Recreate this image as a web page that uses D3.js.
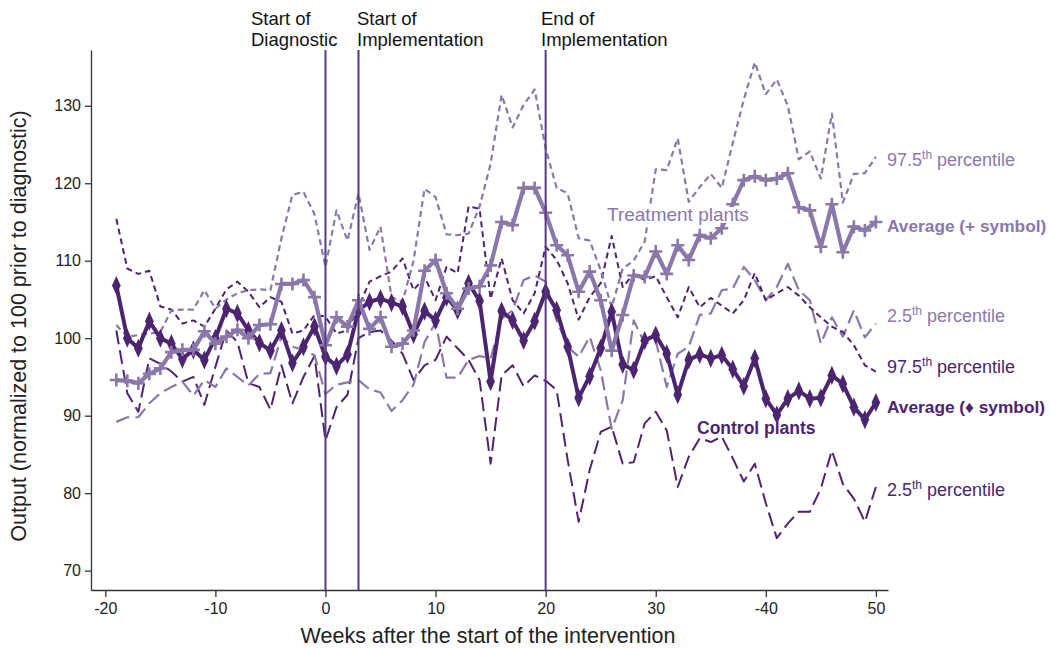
<!DOCTYPE html>
<html>
<head>
<meta charset="utf-8">
<script src="https://cdn.jsdelivr.net/npm/d3@7"></script>
<style>
  body { margin: 0; background: #fff; }
  svg { font-family: "Liberation Sans", Arial, sans-serif; }
</style>
</head>
<body>
<svg id="chart" width="1050" height="648"></svg>
<script>
// weeks relative to the start of the intervention
const weeks = d3.range(-19, 51);

// control plants
const ctrlAvg = [106.8,100.0,98.7,102.2,100.0,99.3,97.3,98.5,97.2,100.0,103.8,103.2,101.0,99.4,98.4,101.0,96.8,98.9,101.5,
  97.6,96.4,97.9,103.6,104.7,105.1,104.6,104.1,100.5,103.5,102.3,105.3,103.6,107.1,104.8,94.4,103.5,102.3,99.7,102.2,
  106.0,103.6,98.9,92.3,95.1,98.7,103.4,96.6,95.9,99.7,100.4,98.0,92.7,97.2,97.9,97.4,97.8,96.0,93.8,97.4,
  92.2,90.1,92.2,93.2,92.2,92.3,95.2,94.1,91.1,89.5,91.7];
const ctrlHi = [115.4,109.0,108.3,108.7,104.1,103.7,101.9,102.3,101.5,103.8,106.3,107.3,106.0,104.0,105.3,104.7,100.6,101.0,103.0,
  102.8,100.6,101.0,104.0,107.3,108.0,108.6,110.3,106.2,107.9,104.9,109.2,108.4,117.0,116.7,105.1,110.3,104.9,103.2,105.8,
  111.8,110.1,107.1,102.4,105.3,107.1,113.2,106.6,108.3,107.5,108.0,105.3,102.7,106.6,104.0,105.2,104.2,103.2,104.9,108.4,
  104.9,105.8,106.6,105.5,104.0,102.7,101.5,100.8,99.1,96.5,95.7];
const ctrlLo = [101.0,92.9,90.5,97.4,96.7,95.7,94.4,95.0,91.4,96.3,101.0,99.5,94.2,93.7,90.8,96.5,91.6,95.0,97.7,
  86.8,91.1,92.7,100.0,100.8,101.0,99.7,98.0,94.6,96.5,97.2,100.2,98.7,97.2,94.6,83.8,95.2,96.5,93.8,95.2,
  94.5,93.3,84.3,76.3,83.0,87.9,88.6,83.8,84.0,89.0,90.5,88.1,80.8,84.7,87.1,86.6,87.3,84.5,81.5,83.8,
  78.7,74.2,76.1,77.6,77.6,80.6,85.5,81.2,79.3,76.3,80.8];

// treatment plants
const trtAvg = [94.6,94.5,94.2,95.4,96.1,98.2,98.5,98.5,100.9,99.3,100.2,101.1,100.0,101.7,101.8,107.0,107.0,107.5,105.3,
  99.1,102.7,101.5,104.9,101.2,102.7,98.9,99.3,101.0,108.7,110.1,105.8,103.8,106.4,106.7,109.4,115.0,114.6,119.4,119.4,
  116.2,112.0,110.7,106.0,108.6,104.9,98.4,103.0,108.1,107.9,111.2,108.3,112.0,110.1,113.3,112.9,114.2,117.3,120.4,120.9,
  120.4,120.6,121.3,116.9,116.5,111.8,117.3,111.1,114.4,113.9,115.0];
const trtHi = [101.7,100.2,100.4,100.6,100.8,103.6,103.7,103.7,106.2,103.8,105.0,105.8,106.2,106.3,106.2,112.9,118.5,118.9,116.0,
  109.2,116.5,112.6,118.7,111.4,114.4,105.3,104.7,110.0,119.3,118.2,113.4,113.3,113.5,117.0,122.5,131.4,127.2,130.1,132.1,
  124.5,119.4,118.7,112.9,112.6,108.8,104.0,109.0,110.0,112.5,121.8,121.7,125.8,117.6,119.5,121.2,119.4,125.2,130.8,135.6,
  131.5,133.4,130.0,123.1,124.1,120.6,129.0,117.5,121.2,121.3,123.4];
const trtLo = [89.2,89.8,89.8,91.6,92.9,93.7,94.4,92.6,94.6,93.7,96.1,95.0,93.9,95.4,95.5,100.2,98.9,98.5,97.8,
  92.8,94.0,94.3,94.6,93.4,93.0,90.6,92.0,94.0,99.5,102.0,94.9,94.9,97.2,97.7,97.4,102.5,103.6,107.5,108.1,
  107.3,102.3,98.9,97.6,100.2,95.9,88.3,92.0,102.3,99.3,99.7,93.7,98.0,98.9,103.0,103.2,106.2,106.4,109.2,107.5,
  104.9,106.6,109.6,106.2,104.9,99.3,102.7,100.2,103.6,100.1,101.9];

const yTicks = [70, 80, 90, 100, 110, 120, 130];
const xTicks = [-20, -10, 0, 10, 20, 30, 40, 50];
const xTickLabels = ['-20', '-10', '0', '10', '20', '30', '-40', '50'];

const events = [0, 3, 20];
const eventLabels = [['Start of', 'Diagnostic'], ['Start of', 'Implementation'], ['End of', 'Implementation']];

const DARK = '#4b2570';
const LIGHT = '#8b78aa';
const VLINE = '#553a82';

const svg = d3.select('#chart');
const x = d3.scaleLinear().domain([-21.3, 51.1]).range([91, 888]);
const y = d3.scaleLinear().domain([67.5, 137.2]).range([590, 50]);

// axes
const yAxis = svg.append('g').attr('transform', 'translate(91,0)')
  .call(d3.axisLeft(y).tickValues(yTicks).tickSize(6).tickSizeOuter(0).tickPadding(4));
const xAxis = svg.append('g').attr('transform', 'translate(0,590)')
  .call(d3.axisBottom(x).tickValues(xTicks).tickSize(7).tickSizeOuter(0).tickPadding(6)
    .tickFormat((d, i) => xTickLabels[i]));
[yAxis, xAxis].forEach(a => {
  a.selectAll('.domain, line').attr('stroke', '#333').attr('stroke-width', 1.3);
  a.selectAll('text').attr('font-size', 16).attr('fill', '#222')
    .attr('font-family', '"Liberation Sans", Arial, sans-serif');
});

svg.append('text').attr('x', 488).attr('y', 643).attr('text-anchor', 'middle')
  .attr('font-size', 21.5).attr('fill', '#222').text('Weeks after the start of the intervention');
svg.append('text').attr('transform', 'translate(26,326) rotate(-90)').attr('text-anchor', 'middle')
  .attr('font-size', 21.5).attr('fill', '#222').text('Output (normalized to 100 prior to diagnostic)');

// series
const line = d3.line().x((d, i) => x(weeks[i])).y(d => y(d));
const plot = svg.append('g');

function drawLine(vals, color, width, dash) {
  plot.append('path').datum(vals).attr('d', line)
    .attr('fill', 'none').attr('stroke', color).attr('stroke-width', width)
    .attr('stroke-dasharray', dash).attr('stroke-linejoin', 'round');
}

drawLine(ctrlLo, DARK, 2, '14,6');
drawLine(trtLo, LIGHT, 2.2, '14,6');
drawLine(ctrlHi, DARK, 2, '6,4');
drawLine(trtHi, LIGHT, 2.2, '6,4');

drawLine(ctrlAvg, DARK, 4);
plot.append('g').selectAll('path').data(ctrlAvg).join('path')
  .attr('d', d3.symbol(d3.symbolDiamond, 80))
  .attr('transform', (d, i) => `translate(${x(weeks[i])},${y(d)}) scale(0.9,1.15)`)
  .attr('fill', DARK);

drawLine(trtAvg, LIGHT, 4.2);
plot.append('g').selectAll('path').data(trtAvg).join('path')
  .attr('d', 'M-6.5,0H6.5M0,-6.5V6.5')
  .attr('transform', (d, i) => `translate(${x(weeks[i])},${y(d)})`)
  .attr('stroke', LIGHT).attr('stroke-width', 2.6).attr('fill', 'none');

// event lines
svg.append('g').selectAll('line').data(events).join('line')
  .attr('x1', d => x(d)).attr('x2', d => x(d)).attr('y1', 50).attr('y2', 590)
  .attr('stroke', VLINE).attr('stroke-width', 2);

const evX = [251, 357, 541];
eventLabels.forEach((lines, i) => {
  const t = svg.append('text').attr('x', evX[i]).attr('y', 25).attr('font-size', 18.5).attr('fill', '#111');
  lines.forEach((s, j) => t.append('tspan').attr('x', evX[i]).attr('dy', j ? 20.5 : 0).text(s));
});

// in-plot group labels with white backing
function boxLabel(text, px, py, color, weight, size) {
  const g = svg.append('g');
  const t = g.append('text').attr('x', px).attr('y', py).attr('font-size', size)
    .attr('fill', color).attr('font-weight', weight).text(text);
  const b = t.node().getBBox();
  g.insert('rect', 'text').attr('x', b.x - 1).attr('y', b.y + 3).attr('width', b.width + 2)
    .attr('height', b.height - 5).attr('fill', '#fff');
}
boxLabel('Treatment plants', 607, 221, LIGHT, 400, 19);
boxLabel('Control plants', 697, 434, DARK, 700, 17.5);

// right-hand labels
const rightLabels = [
  { y: 166, color: LIGHT, main: '97.5', sup: 'th', rest: ' percentile', bold: false },
  { y: 232, color: LIGHT, main: 'Average (+ symbol)', bold: true },
  { y: 322, color: LIGHT, main: '2.5', sup: 'th', rest: ' percentile', bold: false },
  { y: 373, color: DARK, main: '97.5', sup: 'th', rest: ' percentile', bold: false },
  { y: 413, color: DARK, main: 'Average (\u2666 symbol)', bold: true },
  { y: 496, color: DARK, main: '2.5', sup: 'th', rest: ' percentile', bold: false },
];
rightLabels.forEach(l => {
  const t = svg.append('text').attr('x', 887).attr('y', l.y).attr('font-size', l.bold ? 17.3 : 18)
    .attr('fill', l.color).attr('font-weight', l.bold ? 700 : 400);
  t.append('tspan').text(l.main);
  if (l.sup) {
    t.append('tspan').attr('dy', -7).attr('font-size', 12).text(l.sup);
    t.append('tspan').attr('dy', 7).text(l.rest);
  }
});
</script>
</body>
</html>
